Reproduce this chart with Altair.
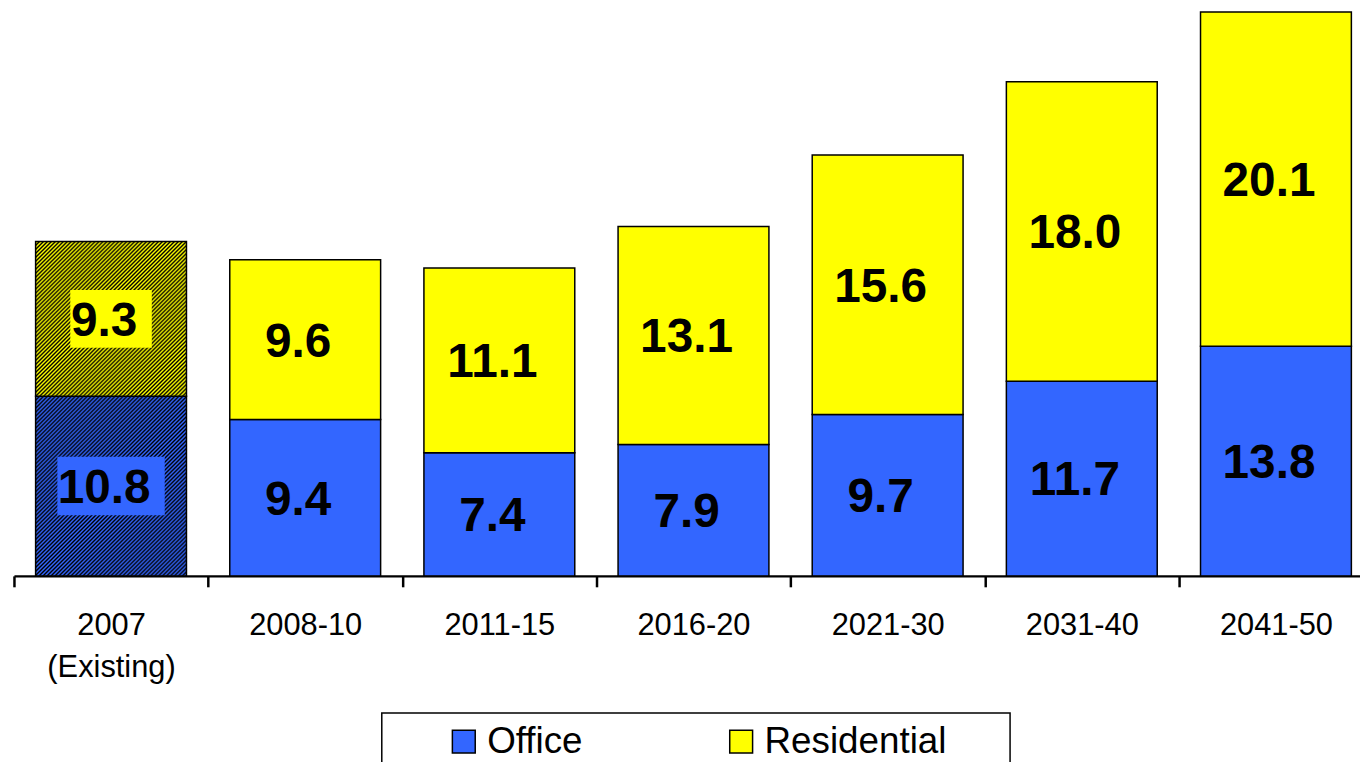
import altair as alt
import pandas as pd

# ---- data ----
periods = ["2007 (Existing)", "2008-10", "2011-15", "2016-20", "2021-30", "2031-40", "2041-50"]
office = [10.8, 9.4, 7.4, 7.9, 9.7, 11.7, 13.8]
residential = [9.3, 9.6, 11.1, 13.1, 15.6, 18.0, 20.1]
series = ["Office", "Residential"]
colors = ["#3366FF", "#FFFF00"]

rows = []
for i, p in enumerate(periods):
    rows.append({"period": p, "series": "Office", "value": office[i], "order": 0})
    rows.append({"period": p, "series": "Residential", "value": residential[i], "order": 1})
df = pd.DataFrame(rows)

# ---- layout constants ----
PLOT_H = 569
Y_MAX = 34
PX_PER_UNIT = PLOT_H / Y_MAX
STEP = 195.3
X0 = 6
BAR_FRAC = 0.777
BAR_W = STEP * BAR_FRAC
EXISTING = periods[0]


def hatch(color, w, h, period_px=4.0):
    """diagonal /// hatching as a linear gradient (black / colour wave)"""
    s = (w + h) / (w * w + h * h)
    n = int(round((w + h) / period_px))
    stops = []
    for i in range(n):
        stops.append({"offset": i / n, "color": "#000000"})
        stops.append({"offset": (i + 0.5) / n, "color": color})
    stops.append({"offset": 1, "color": "#000000"})
    return {"gradient": "linear", "x1": 0, "y1": 0, "x2": w * s, "y2": h * s, "stops": stops}


x_enc = alt.X(
    "period:N",
    sort=periods,
    scale=alt.Scale(range=[X0, X0 + STEP * len(periods)], paddingInner=0, paddingOuter=0, round=False),
    axis=alt.Axis(
        title=None,
        labelAngle=0,
        labelFont="Liberation Sans",
        labelFontSize=31,
        labelColor="black",
        labelPadding=24,
        labelLineHeight=42,
        labelExpr="datum.value == '2007 (Existing)' ? ['2007', '(Existing)'] : datum.label",
        domainColor="black",
        domainWidth=2.5,
        tickColor="black",
        tickWidth=2.5,
        tickSize=11,
        tickBand="extent",
        grid=False,
    ),
)
y_scale = alt.Scale(domain=[0, Y_MAX])

base = (
    alt.Chart(df)
    .transform_stack(stack="value", groupby=["period"], as_=["y0", "y1"], sort=[alt.SortField("order")])
    .transform_calculate(mid="(datum.y0 + datum.y1) / 2", label="format(datum.value, '.1f')")
)

bars = base.transform_filter(alt.datum.period != EXISTING).mark_bar(
    stroke="black", strokeWidth=1.5, width=alt.RelativeBandSize(BAR_FRAC)
).encode(
    x=x_enc,
    y=alt.Y("y0:Q", scale=y_scale, axis=None),
    y2="y1:Q",
    color=alt.Color(
        "series:N",
        scale=alt.Scale(domain=series, range=colors),
        legend=alt.Legend(
            orient="none",
            legendX=440,
            legendY=717,
            direction="horizontal",
            title=None,
            symbolType="square",
            symbolSize=529,
            symbolStrokeColor="black",
            symbolStrokeWidth=1.5,
            symbolOpacity=1,
            labelFont="Liberation Sans",
            labelFontSize=37,
            labelColor="black",
            labelOffset=5,
            labelLimit=0,
            columnPadding=141,
            padding=0,
        ),
    ),
)

hatch_office = base.transform_filter(
    (alt.datum.period == EXISTING) & (alt.datum.series == "Office")
).mark_bar(
    stroke="black", strokeWidth=1.5, width=alt.RelativeBandSize(BAR_FRAC),
    fill=hatch(colors[0], BAR_W, office[0] * PX_PER_UNIT),
).encode(x=x_enc, y=alt.Y("y0:Q", scale=y_scale, axis=None), y2="y1:Q")

hatch_res = base.transform_filter(
    (alt.datum.period == EXISTING) & (alt.datum.series == "Residential")
).mark_bar(
    stroke="black", strokeWidth=1.5, width=alt.RelativeBandSize(BAR_FRAC),
    fill=hatch(colors[1], BAR_W, residential[0] * PX_PER_UNIT),
).encode(x=x_enc, y=alt.Y("y0:Q", scale=y_scale, axis=None), y2="y1:Q")

box_res = base.transform_filter(
    (alt.datum.period == EXISTING) & (alt.datum.series == "Residential")
).mark_point(
    shape="M-1,-0.707L1,-0.707L1,0.707L-1,0.707Z", size=82 * 82, filled=True,
    color=colors[1], opacity=1, strokeWidth=0,
).encode(x=x_enc, y=alt.Y("mid:Q", scale=y_scale, axis=None))

box_off = base.transform_filter(
    (alt.datum.period == EXISTING) & (alt.datum.series == "Office")
).mark_point(
    shape="M-1,-0.546L1,-0.546L1,0.546L-1,0.546Z", size=108 * 108, filled=True,
    color=colors[0], opacity=1, strokeWidth=0,
).encode(x=x_enc, y=alt.Y("mid:Q", scale=y_scale, axis=None))

labels = base.mark_text(
    font="Liberation Sans", fontWeight="bold", fontSize=48, color="black",
    baseline="middle", align="center", dx=-7, dy=3,
).encode(x=x_enc, y=alt.Y("mid:Q", scale=y_scale, axis=None), text="label:N")

frame = alt.Chart(pd.DataFrame({"k": [0]})).mark_rect(
    fill="white", stroke="black", strokeWidth=1.5
).encode(x=alt.value(376), x2=alt.value(1008), y=alt.value(707), y2=alt.value(800))

chart = (
    alt.layer(frame, bars, hatch_office, hatch_res, box_res, box_off, labels)
    .properties(
        width=1360,
        height=PLOT_H,
        autosize=alt.AutoSizeParams(type="none"),
        padding={"left": 0, "top": 0, "right": 0, "bottom": 185},
    )
    .configure_view(stroke=None)
)

chart.save("out.html", embed_options={"renderer": "svg", "actions": False})
